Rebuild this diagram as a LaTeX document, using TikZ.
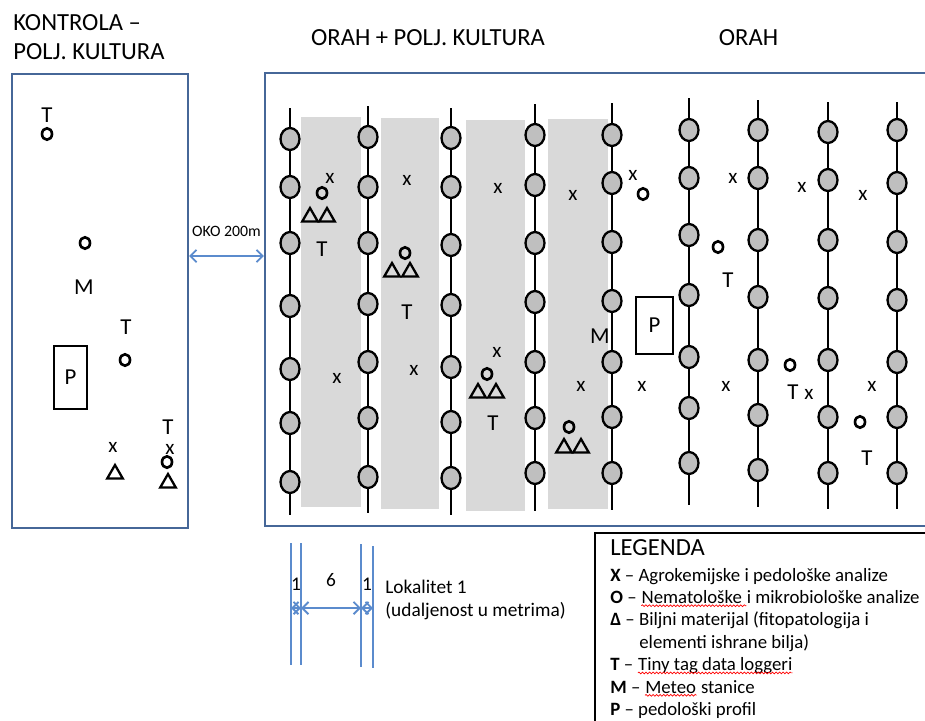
\documentclass[tikz,border=0pt]{standalone}
\usepackage{fontspec}
\setmainfont{Carlito}
\usetikzlibrary{arrows.meta, positioning, shapes.geometric, decorations.pathmorphing}

\definecolor{frameblue}{RGB}{70,103,152}
\definecolor{dimblue}{RGB}{91,139,205}
\definecolor{stripgray}{RGB}{217,217,217}
\definecolor{treegray}{RGB}{191,191,191}

\begin{document}
\begin{tikzpicture}[
  x=0.02cm, y=-0.02cm,
  >={Straight Barb[length=3.5pt,width=7pt]},
  title/.style={font=\fontsize{14}{16.4}\selectfont, inner sep=0, align=left},
  field/.style={rectangle, draw=frameblue, line width=1.4pt},
  tree/.style={ellipse, draw, fill=treegray, line width=1.3pt,
    minimum width=0.38cm, minimum height=0.44cm, inner sep=0},
  osym/.style={ellipse, draw, line width=1.5pt,
    minimum width=0.2cm, minimum height=0.23cm, inner sep=0},
  trisym/.style={regular polygon, regular polygon sides=3, draw,
    line width=1.3pt, minimum size=0.36cm, inner sep=0},
  letter/.style={font=\fontsize{13}{15}\selectfont, inner sep=0},
  xmark/.style={font=\fontsize{12}{14}\selectfont, inner sep=0},
  profile/.style={rectangle, draw, line width=1.1pt, inner sep=0,
    font=\fontsize{13}{15}\selectfont},
  dim/.style={draw=dimblue, line width=1.1pt},
  dimlabel/.style={font=\fontsize{11}{13}\selectfont, inner sep=0},
  legtext/.style={font=\fontsize{10.7}{13}\selectfont, inner sep=0, anchor=base west},
  typo/.style={draw=red, line width=0.4pt, decorate,
    decoration={snake, amplitude=0.5pt, segment length=2pt}},
]
\useasboundingbox (0,0) rectangle (925,720);

% --- titles ---
\node[title, anchor=west] (tkontrola) at (13,37.5) {KONTROLA –\\POLJ. KULTURA};
\node[title] (tmix) at (428,38) {ORAH + POLJ. KULTURA};
\node[title] (torah) at (748.5,38) {ORAH};

% --- fields ---
\node[field, minimum width=3.52cm, minimum height=9.08cm] (kontrola) at (100,301) {};
\node[field, minimum width=13.9cm, minimum height=9.06cm] (orah) at (612.5,299.5) {};

\draw[<->, draw=dimblue, line width=1pt] ([yshift=0.9cm]kontrola.east)
  -- ([yshift=0.9cm]kontrola.east -| orah.west)
  node[midway, above=0.38cm, inner sep=0, font=\fontsize{9}{11}\selectfont] (oko) {OKO 200m};

% --- crop strips ---
\foreach \ax/\ay/\bx/\by in {301/117/361/507, 381/118/439/509, 466/120/525/511, 548/119/608/509}
  \fill[stripgray] (\ax,\ay) rectangle (\bx,\by);

% --- walnut rows ---
\foreach \rx/\rt/\rb/\ys [count=\r] in {
  290/108/515/{139,187,243,306,369,423,482},
  368/106/513/{137,187,243,304,362,418,477},
  451/108/515/{138,187,245,305,367,422,478},
  535/104/511/{135,185,243,302,362,418,473},
  612/103/510/{135,183,242,301,362,417,473},
  689/98/505/{130,178,235,295,357,408,463},
  758/100/507/{130,178,240,297,360,415,470},
  828/102/509/{132,180,240,298,360,417,473},
  897/102/509/{130,183,242,300,362,417,473}}{
  \draw[line width=1.1pt] (\rx,\rt) -- (\rx,\rb);
  \foreach \cy [count=\k] in \ys
    \node[tree] (t\r-\k) at (\rx,\cy) {};
}

% --- sampling points ---
\foreach \px/\py [count=\i] in {330/178, 407/180, 498/188, 573/195, 337/378, 414/370,
    497/352, 581/386, 633/175, 733/178, 802/187, 863/195, 642/386, 726/386,
    809/394, 872/386, 113/447, 170/449}
  \node[xmark] (x\i) at (\px,\py) {x};

\foreach \px/\py [count=\i] in {47/134, 85/243, 125/360, 167/462, 322/193, 405/253,
    487/374, 569/427, 643/194, 718/247, 790/365, 860/422}
  \node[osym] (o\i) at (\px,\py) {};

\foreach \px/\py [count=\i] in {115/474, 168/483, 310/217, 327/217, 392/272, 410/272,
    478/393, 496/393, 564/448, 581/448}
  \node[trisym] (d\i) at (\px,\py) {};

\foreach \px/\py [count=\i] in {47/115, 126/327, 168/427, 322/249, 407/312, 493/423,
    728/280, 793/392, 867/458}
  \node[letter] (tl\i) at (\px,\py) {T};

\node[letter] (m1) at (84,287) {M};
\node[letter] (m2) at (600,336) {M};

\node[profile, minimum width=0.66cm, minimum height=1.26cm] (pk) at (70.5,377.5) {P};
\node[profile, minimum width=0.74cm, minimum height=1.14cm] (po) at (654.5,325.5) {P};

% --- distances ---
\coordinate (d1t) at (291,543); \coordinate (d1b) at (291,665);
\coordinate (d2t) at (301,543); \coordinate (d2b) at (301,665);
\coordinate (d3t) at (361,544); \coordinate (d3b) at (361,667);
\coordinate (d4t) at (373,546); \coordinate (d4b) at (373,668);
\foreach \n in {1,...,4}
  \draw[dim] (d\n t) -- (d\n b);
\coordinate (a1) at (291,608);
\coordinate (a2) at (301,608);
\coordinate (a3) at (361,608);
\coordinate (a4) at (373,608);
\draw[dim, <->] (a1) -- node[dimlabel, above=0.33cm] (w1) {1} (a2);
\draw[dim, <->] (a2) -- node[dimlabel, above=0.41cm] (w6) {6} (a3);
\draw[dim, <->] (a3) -- node[dimlabel, above=0.33cm] (w2) {1} (a4);
\node[dimlabel, anchor=base west] (lok1) at (385,593.5) {Lokalitet 1};
\node[dimlabel, anchor=base west] (lok2) at (385,616.5) {(udaljenost u metrima)};

% --- legend ---
\node[draw, line width=1.2pt, minimum width=7.3cm, minimum height=4.54cm] (legenda) at (777.5,646.5) {};
\node[legtext, font=\fontsize{14}{16}\selectfont] (lhead) at (610,555.5) {LEGENDA};
\node[legtext] (l1) at (610,581) {\textbf{X} – Agrokemijske i pedološke analize};
\node[legtext] (l2) at (610,603.4) {\textbf{O} –\ \null};
\node[legtext] (l2w) at (l2.base east) {Nematološke\ \null};
\node[legtext] (l2r) at (l2w.base east) {i mikrobiološke analize};
\node[legtext] (l3) at (610,625.8) {\textbf{Δ} – Biljni materijal (fitopatologija i};
\node[legtext] (l3b) at (639,648.2) {elementi ishrane bilja)};
\node[legtext] (l4) at (610,670.6) {\textbf{T} –\ \null};
\node[legtext] (l4w) at (l4.base east) {Tiny tag data loggeri};
\node[legtext] (l5) at (610,693) {\textbf{M} –\ \null};
\node[legtext] (l5w) at (l5.base east) {Meteo};
\node[legtext] (l5r) at (l5w.base east) {\ stanice};
\node[legtext] (l6) at (610,715.4) {\textbf{P} – pedološki profil};
\draw[typo] ([yshift=-1.3pt]l2w.base west) -- ([yshift=-1.3pt]l2w.base east);
\draw[typo] ([yshift=-1.3pt]l4w.base west) -- ([yshift=-1.3pt]l4w.base east);
\draw[typo] ([yshift=-1.3pt]l5w.base west) -- ([yshift=-1.3pt]l5w.base east);

\end{tikzpicture}
\end{document}
